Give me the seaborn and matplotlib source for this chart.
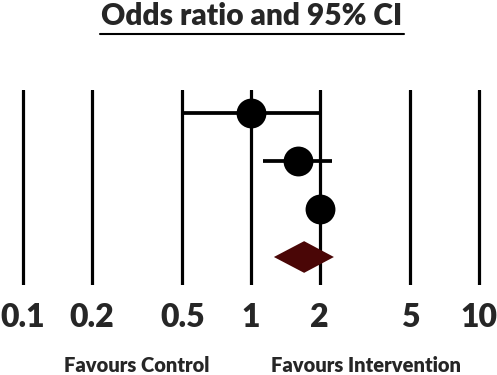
import matplotlib
matplotlib.use("Agg")
import matplotlib.pyplot as plt
import seaborn as sns
import pandas as pd
import numpy as np

sns.set_theme(style="white")
plt.rcParams['font.family'] = ['Lato', 'DejaVu Sans']

# Data
studies = ["Study 1", "Study 2", "Study 3"]
odds_ratio = [1.0, 1.61, 2.0]
ci_low = [0.5, 1.13, 2.0]
ci_high = [2.0, 2.27, 2.0]
pooled_or = 1.71
pooled_low = 1.26
pooled_high = 2.31
tick_values = [0.1, 0.2, 0.5, 1, 2, 5, 10]
tick_labels = ["0.1", "0.2", "0.5", "1", "2", "5", "10"]
title = "Odds ratio and 95% CI"
left_label = "Favours Control"
right_label = "Favours Intervention"

W, H = 497, 375
fig = plt.figure(figsize=(W / 100, H / 100), dpi=100)
ax = fig.add_axes([0, (H - 285) / H, 1, (285 - 90) / H])

df = pd.DataFrame({"study": studies, "OR": odds_ratio, "lo": ci_low, "hi": ci_high,
                   "row": np.arange(1, len(studies) + 1)})

for v in tick_values:
    ax.axvline(v, color="black", lw=2.3, zorder=1)

ax.hlines(df["row"], df["lo"], df["hi"], color="black", lw=2.7, zorder=2)
sns.scatterplot(data=df, x="OR", y="row", ax=ax, color="black", s=21.5 ** 2,
                edgecolor="black", linewidth=0, zorder=3, legend=False)

prow = len(studies) + 1
half_h = 0.33
ax.fill([pooled_low, pooled_or, pooled_high, pooled_or],
        [prow, prow - half_h, prow, prow + half_h],
        color="#4a0606", zorder=3, lw=0)

ax.set_xscale("log")
lo_exp = -1 - 23 / 228
hi_exp = 1 + 18 / 228
ax.set_xlim(10 ** lo_exp, 10 ** hi_exp)
ax.set_ylim(prow + 28 / 48, 1 - 23 / 48)
ax.set_xticks(tick_values)
ax.set_xticklabels(tick_labels, fontsize=23, fontweight="heavy")
ax.xaxis.set_minor_locator(matplotlib.ticker.NullLocator())
ax.tick_params(axis="x", length=0, pad=13)
ax.set_yticks([])
ax.set_xlabel("")
ax.set_ylabel("")
for s in ax.spines.values():
    s.set_visible(False)
ax.patch.set_alpha(0)

fig.text(252 / W, 1 - 16 / H, title, ha="center", va="center", fontsize=21.5, fontweight="heavy")
fig.add_artist(plt.Line2D([100 / W, 404 / W], [1 - 34 / H, 1 - 34 / H], color="black", lw=1.5))
fig.text(137 / W, 1 - 366 / H, left_label, ha="center", va="center", fontsize=14.5, fontweight="heavy")
fig.text(366 / W, 1 - 366 / H, right_label, ha="center", va="center", fontsize=14.5, fontweight="heavy")

fig.savefig("out.png", dpi=100)
